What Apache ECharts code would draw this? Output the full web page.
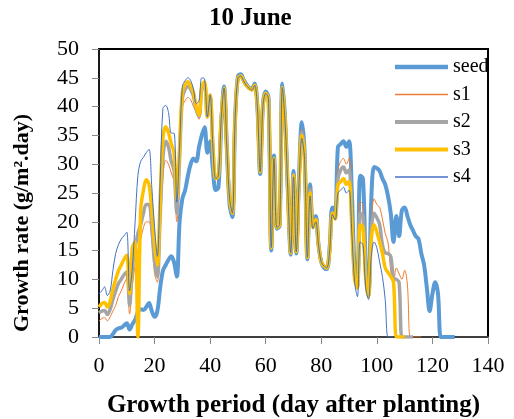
<!DOCTYPE html>
<html lang="en">
<head>
    <meta charset="UTF-8">
    <title>Growth rate 10 June</title>
    <style>
        html, body {
            margin: 0;
            padding: 0;
            background: #ffffff;
        }

        #chart {
            width: 514px;
            height: 419px;
        }
    </style>
</head>
<body>
<div id="chart"></div>
<script src="https://cdn.jsdelivr.net/npm/echarts@6/dist/echarts.min.js"></script>
<script type="text/javascript">
    // daily growth rate, index = day after planting
    const seed = [0, 0, 0, 0, 0, 0.5, 1.2, 1.5, 1.6, 2, 2.4, 1.3, 2.2, 3, 4.3, 4.8, 4.7, 5.2, 5.9, 4.5,
        3.5, 4.5, 8.5, 11.5, 12.5, 13.4, 14, 13, 10.5, 20, 24, 25.5, 28, 30, 31, 30.5, 33, 35, 36.4, 32,
        34, 29, 25.5, 26, 37, 43.5, 33, 23, 20.8, 38, 45.3, 45.6, 44.7, 43.9, 43.3, 43.1, 44, 40, 28.3, 40.3,
        42.6, 41.6, 15, 31.5, 18.8, 19.3, 44, 37.5, 25, 14.3, 28.8, 14.5, 28, 37.3, 32, 13.5, 26.5, 19.5, 21, 16,
        13, 12, 11.8, 15.5, 22.5, 22, 33, 33.5, 34, 33, 34, 25, 12, 10, 28, 27.5, 13, 8, 24, 29.5,
        29.3, 28.8, 27.5, 26.5, 24.5, 21.5, 16.5, 21, 17.5, 22, 22.5, 21, 19.5, 18.5, 17.5, 17, 14.5, 12.5, 8.5, 4.5,
        7.5, 9.5, 7.5, 0, 0, 0, 0, 0, 0];
    const s1 = [2.8, 3.2, 3.4, 2.8, 3.5, 4.5, 5.5, 7, 8, 9.2, 10.2, 4, 9, 12.5, 15, 17, 19, 20, 20, 17,
        11, 9.5, 17.5, 27.5, 30.7, 30, 28.5, 27, 20, 29.5, 40, 41, 41.6, 41.2, 40, 39, 37.8, 42.5, 43.5, 38.2,
        42, 33, 27.5, 28, 38, 43.2, 33, 24, 21.5, 38, 45, 45.3, 44.5, 43.7, 43.2, 42.9, 43.7, 40, 28.7, 40,
        42.3, 41.4, 15.5, 31, 19, 19.5, 43.3, 37, 25, 14.6, 28.3, 14.8, 27.5, 36, 31.5, 13.8, 26, 19.2, 20.6, 16,
        13, 12.3, 12, 15.2, 21.8, 21, 29, 30.5, 31, 30, 31, 22, 11, 9, 23.5, 23, 12, 7.5, 20, 24,
        23, 22.5, 20.5, 18, 16.5, 11.5, 9.5, 12, 11, 10, 11.6, 9, 0, 0, 0, 0, 0];
    const s2 = [4.2, 4.5, 4.6, 3.9, 4.8, 6.5, 8, 9.3, 10, 10.8, 11.3, 5.5, 12, 15.5, 18, 19.5, 21.5, 23, 23, 19,
        13, 10.5, 21, 31, 34, 33, 30.5, 29, 21.5, 31, 41.5, 43, 43.5, 43, 41.8, 39.5, 38.3, 43, 44, 38.2,
        42, 33, 27.5, 28, 38, 43.2, 33, 24, 21.5, 38, 45, 45.3, 44.5, 43.7, 43.2, 42.9, 43.7, 40, 28.7, 40,
        42.3, 41.4, 15.5, 31, 19, 19.5, 43.3, 37, 25, 14.6, 28.2, 14.8, 27.2, 35.5, 31.2, 13.8, 25.5, 19.1, 20.5, 16,
        13, 12.3, 12, 15.1, 21.6, 20.8, 27.5, 29, 29.5, 28.5, 29, 20.5, 10.5, 8.7, 21.5, 21, 11, 7.2, 18.5, 21.5,
        20.7, 19.5, 16, 14.6, 14.5, 14, 10.2, 10, 9.5, 0, 0, 0, 0, 0];
    const s3 = [5.2, 5.8, 6, 5.2, 6.2, 8.3, 10, 11.5, 12.5, 13.5, 14.2, 7.5, 15.5, 16.5, 0, 22, 25.5, 27.3, 26.5, 22,
        16, 12.5, 24, 34.5, 36.5, 35.5, 33.5, 32, 24, 33, 42.5, 43.8, 44.3, 43.5, 42.5, 40, 38.5, 43.5, 44.3, 38.2,
        42, 33, 27.5, 28, 38, 43.2, 33, 24, 21.5, 38, 45, 45.3, 44.5, 43.7, 43.2, 42.9, 43.7, 40, 28.7, 40,
        42.3, 41.4, 15.5, 31, 19, 19.5, 43.3, 37, 25, 14.6, 28, 14.8, 27, 35, 31, 13.8, 25, 19, 20.3, 16,
        13, 12.3, 12, 15, 21.5, 20.5, 26.4, 27, 27.5, 26.5, 27, 19, 10, 8.5, 19.5, 19, 10, 7, 17, 19.5,
        18.2, 16.5, 14.5, 12, 11.2, 10.5, 9.5, 0, 0, 0, 0];
    const s4 = [7.5, 8, 8.7, 7.2, 8, 11.5, 14.5, 16, 17, 17.6, 18.2, 8, 12, 20, 28, 30.5, 31.2, 32, 32.6, 26,
        19, 14, 27, 39.7, 40.2, 39, 35.4, 35.4, 23.4, 33, 43.5, 44.5, 45, 44.5, 43, 40.5, 41, 45, 44.8, 38.2,
        42, 33, 27.5, 28, 38, 43.2, 33, 24, 21.5, 38, 45, 45.3, 44.5, 43.7, 43.2, 42.9, 43.7, 40, 28.7, 40,
        42.3, 41.4, 15.5, 31, 19, 19.5, 43.3, 37, 25, 14.6, 27.8, 14.8, 26.8, 34.5, 30.8, 13.8, 24.5, 18.8, 20, 16,
        13, 12.3, 12, 15, 21.3, 20.3, 25, 25.5, 26, 25, 25.5, 18, 9.5, 7, 16.5, 16, 8.5, 6.5, 14, 16.5,
        15.5, 13, 10.5, 6.5, 0, 0, 0];

    const seriesSetting = {
        names: ["seed", "s1", "s2", "s3", "s4"],
        colorList: ["#5B9BD5", "#ED7D31", "#A5A5A5", "#FFC000", "#4472C4"],
        widths: [4, 1, 3.5, 3.5, 1],
    }
    const allData = [seed, s1, s2, s3, s4];

    const font = "'Liberation Serif', 'Times New Roman', serif";

    let series = allData.map((values, index) => {
        return {
            name: seriesSetting.names[index],
            type: 'line',
            smooth: 0.35,
            symbol: 'none',
            color: seriesSetting.colorList[index],
            lineStyle: {
                width: seriesSetting.widths[index],
                color: seriesSetting.colorList[index]
            },
            data: values.map((v, day) => [day, v])
        }
    })

    // legend icons: plain strokes, thickness like the lines
    let legendData = seriesSetting.names.map((name, index) => {
        let h = seriesSetting.widths[index] + 0.5;
        return {
            name: name,
            icon: 'path://M0,0L106,0L106,' + (h * 2) + 'L0,' + (h * 2) + 'Z'
        }
    })

    let myChart = echarts.init(document.getElementById('chart'), null, {renderer: 'canvas'});
    myChart.setOption({
        animation: false,
        title: {
            text: '10 June',
            left: 209,
            top: 6,
            padding: 0,
            textStyle: {
                fontFamily: font,
                fontWeight: 'bold',
                fontSize: 25,
                color: '#000'
            }
        },
        grid: {
            left: 99,
            right: 26,
            top: 49,
            bottom: 82,
            outerBoundsMode: 'none',
            containLabel: false,
            show: true,
            borderColor: '#000',
            borderWidth: 2
        },
        legend: {
            orient: 'vertical',
            left: 395,
            top: 57,
            padding: 0,
            itemWidth: 53,
            itemHeight: 10,
            itemGap: 7.5,
            data: legendData,
            textStyle: {
                fontFamily: font,
                fontSize: 20,
                color: '#000'
            }
        },
        xAxis: {
            type: 'value',
            min: 0,
            max: 140,
            interval: 20,
            name: 'Growth period (day after planting)',
            nameLocation: 'middle',
            nameGap: 56,
            nameTextStyle: {
                fontFamily: font,
                fontWeight: 'bold',
                fontSize: 25,
                color: '#000'
            },
            axisLine: {show: true, lineStyle: {color: '#555', width: 1.5}},
            axisTick: {show: true, length: 7, lineStyle: {color: '#888'}},
            axisLabel: {
                margin: 18,
                fontFamily: font,
                fontSize: 22,
                color: '#000'
            },
            splitLine: {show: false}
        },
        yAxis: {
            type: 'value',
            min: 0,
            max: 50,
            interval: 5,
            name: 'Growth rate (g/m\u00b2.day)',
            nameLocation: 'middle',
            nameGap: 66,
            nameTextStyle: {
                fontFamily: font,
                fontWeight: 'bold',
                fontSize: 22,
                color: '#000',
                padding: [0, 60, 0, 0]
            },
            axisLine: {show: true, lineStyle: {color: '#222', width: 1.5}},
            axisTick: {show: true, length: 7, lineStyle: {color: '#888'}},
            axisLabel: {
                margin: 20,
                fontFamily: font,
                fontSize: 22,
                color: '#000'
            },
            splitLine: {show: false}
        },
        series: series
    });
</script>
</body>
</html>
